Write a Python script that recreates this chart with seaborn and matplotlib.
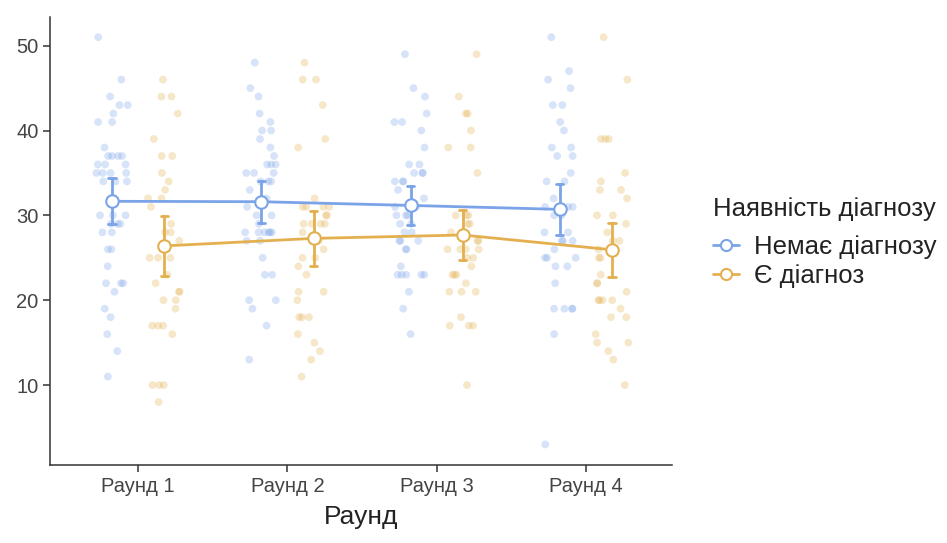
import numpy as np
import pandas as pd
import matplotlib
matplotlib.use("Agg")
import matplotlib.pyplot as plt
from matplotlib.lines import Line2D
import seaborn as sns

rounds = ["Раунд 1", "Раунд 2", "Раунд 3", "Раунд 4"]
groups = ["Немає діагнозу", "Є діагноз"]

# (value, count) pairs of individual scores per round and group
no_dx_r1 = [(51, 1), (46, 1), (44, 1), (43, 2), (42, 1), (41, 2), (38, 1), (37, 4), (36, 3),
            (35, 4), (34, 3), (32, 1), (30, 3), (29, 3), (28, 2), (26, 2), (24, 1), (22, 3),
            (21, 1), (19, 1), (18, 1), (16, 1), (14, 1), (11, 1)]
dx_r1 = [(46, 1), (44, 2), (42, 1), (39, 1), (37, 2), (35, 1), (34, 1), (33, 1), (32, 2),
         (31, 1), (29, 1), (28, 2), (27, 1), (25, 3), (23, 1), (22, 1), (21, 2), (20, 2),
         (19, 1), (17, 3), (16, 1), (10, 3), (8, 1)]
no_dx_r2 = [(48, 1), (45, 1), (44, 1), (42, 1), (41, 1), (40, 2), (39, 1), (38, 1), (37, 1),
            (36, 3), (35, 3), (34, 3), (33, 1), (32, 1), (31, 1), (30, 2), (29, 1), (28, 6),
            (27, 2), (25, 1), (23, 2), (20, 2), (19, 1), (17, 1), (13, 1)]
dx_r2 = [(48, 1), (46, 2), (43, 1), (39, 1), (38, 1), (32, 1), (31, 4), (30, 2), (29, 4),
         (28, 1), (27, 1), (26, 1), (25, 2), (24, 1), (23, 1), (21, 2), (20, 1), (18, 3),
         (16, 1), (15, 1), (14, 1), (13, 1), (11, 1)]
no_dx_r3 = [(49, 1), (45, 1), (44, 1), (42, 1), (41, 2), (40, 1), (38, 1), (36, 2), (35, 3),
            (34, 3), (33, 1), (32, 1), (31, 2), (30, 3), (29, 2), (28, 2), (27, 3), (26, 2),
            (24, 1), (23, 5), (21, 1), (19, 1), (16, 1)]
dx_r3 = [(49, 1), (44, 1), (42, 2), (40, 1), (38, 2), (35, 1), (30, 3), (29, 2), (28, 1),
         (27, 2), (26, 4), (25, 2), (24, 1), (23, 3), (22, 1), (21, 3), (18, 1), (17, 3),
         (10, 1)]
no_dx_r4 = [(51, 1), (47, 1), (46, 1), (45, 1), (43, 2), (41, 1), (40, 1), (38, 2), (37, 2),
            (35, 1), (34, 2), (32, 1), (31, 5), (30, 2), (28, 2), (27, 3), (26, 1), (25, 3),
            (24, 2), (22, 1), (19, 4), (16, 1), (3, 1)]
dx_r4 = [(51, 1), (46, 1), (39, 3), (35, 1), (34, 1), (33, 2), (32, 1), (30, 2), (29, 1),
         (28, 1), (27, 2), (26, 1), (25, 2), (23, 1), (22, 2), (21, 1), (20, 4), (19, 1),
         (18, 2), (16, 1), (15, 2), (14, 1), (13, 1), (10, 1)]

scores = {
    (rounds[0], groups[0]): no_dx_r1, (rounds[0], groups[1]): dx_r1,
    (rounds[1], groups[0]): no_dx_r2, (rounds[1], groups[1]): dx_r2,
    (rounds[2], groups[0]): no_dx_r3, (rounds[2], groups[1]): dx_r3,
    (rounds[3], groups[0]): no_dx_r4, (rounds[3], groups[1]): dx_r4,
}

rows = []
for (rnd, grp), pairs in scores.items():
    for value, count in pairs:
        rows += [{"Раунд": rnd, "group": grp, "score": value}] * count
df = pd.DataFrame(rows)

palette = {groups[0]: "#7BA3E8", groups[1]: "#E4B04F"}
DODGE = 0.35

sns.set_theme(style="ticks")
plt.rcParams["font.family"] = ["Liberation Sans", "DejaVu Sans"]

fig = plt.figure(figsize=(9.47, 5.43), dpi=100)
ax = fig.add_axes([0.053, 0.144, 0.657, 0.825])

np.random.seed(7)
sns.stripplot(data=df, x="Раунд", y="score", hue="group", order=rounds,
              hue_order=groups, palette=palette, dodge=True, jitter=0.22,
              size=5.6, alpha=0.3, linewidth=0, legend=False, ax=ax, zorder=1)

# pull the dodged strips slightly closer to their category centre
for coll in ax.collections:
    off = np.asarray(coll.get_offsets(), dtype=float)
    if len(off) == 0:
        continue
    cat = np.round(off[:, 0])
    rel = off[:, 0] - cat
    side = np.sign(rel.mean())
    off[:, 0] = cat + rel - side * 0.2 + side * DODGE / 2
    coll.set_offsets(off)

sns.pointplot(data=df, x="Раунд", y="score", hue="group", order=rounds,
              hue_order=groups, palette=palette, dodge=DODGE,
              errorbar=("se", 2), capsize=0.05, markers="o", markersize=9,
              linewidth=2, err_kws={"linewidth": 2}, legend=False, ax=ax)

for line in ax.lines:
    if line.get_marker() == "o":
        line.set_markerfacecolor("white")
        line.set_markeredgewidth(1.5)
        line.set_zorder(5)

ax.set_xlim(-0.59, 3.58)
ax.set_ylim(0.6, 53.4)
ax.set_yticks([10, 20, 30, 40, 50])
ax.set_xlabel("Раунд", fontsize=19, color="#222222", labelpad=7)
ax.set_ylabel("")
for side in ("top", "right"):
    ax.spines[side].set_visible(False)
for side in ("left", "bottom"):
    ax.spines[side].set_color("#333333")
    ax.spines[side].set_linewidth(1.1)
ax.tick_params(axis="both", labelsize=14.5, colors="#333333", length=5, width=1.1,
               labelcolor="#444444")

handles = [Line2D([0], [0], color=palette[g], marker="o", markerfacecolor="white",
                  markeredgecolor=palette[g], markersize=8, linewidth=2,
                  markeredgewidth=1.5) for g in groups]
leg = fig.legend(handles, groups, title="Наявність діагнозу", loc="center left",
                 bbox_to_anchor=(0.742, 0.553), frameon=False, fontsize=18.5,
                 title_fontsize=18.5, handlelength=1.0, handletextpad=0.6,
                 labelspacing=0.18, borderaxespad=0)
leg._legend_box.align = "left"
leg._legend_box.sep = 10
for t in leg.get_texts():
    t.set_color("#222222")
leg.get_title().set_color("#222222")

fig.savefig("out.png", dpi=100)
